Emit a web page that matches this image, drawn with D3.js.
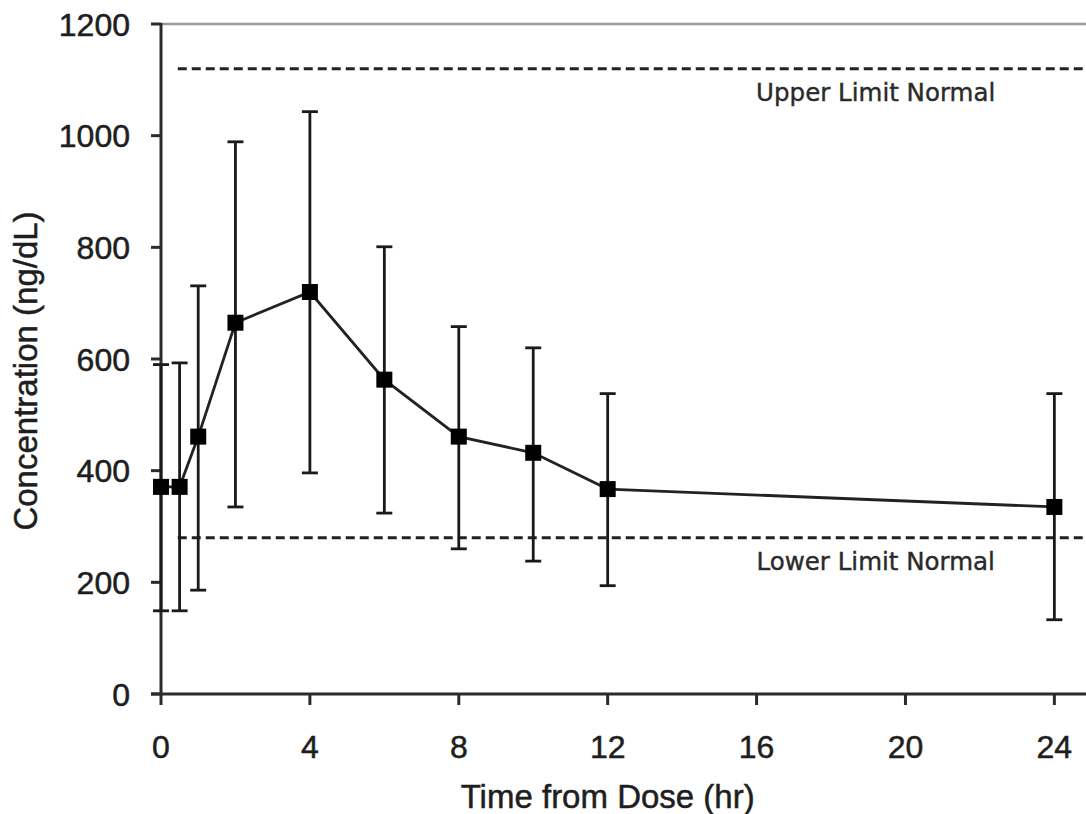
<html lang="en">
<head>
  <meta charset="UTF-8">
  <title>concentration</title>
  <style>
    body {
      margin: 0;
      background-color: #fff;
    }

    .axis-line {
      stroke: #2b2b2b;
      stroke-width: 3;
      fill: none;
    }

    .top-border {
      stroke: #9a9a9a;
      stroke-width: 2.5;
    }

    .tick-label {
      font-family: "Liberation Sans", Arial, sans-serif;
      font-size: 32px;
      fill: #1e1e1e;
      stroke: #1e1e1e;
      stroke-width: 0.5;
    }

    .axis-title {
      font-family: "Liberation Sans", Arial, sans-serif;
      font-size: 33px;
      fill: #1e1e1e;
      stroke: #1e1e1e;
      stroke-width: 0.5;
      text-anchor: middle;
    }

    .limit-line {
      stroke: #222;
      stroke-width: 3;
      stroke-dasharray: 9,5;
    }

    .limit-label {
      font-family: "DejaVu Sans", sans-serif;
      font-size: 24.5px;
      fill: #2a2a2a;
      stroke: #2a2a2a;
      stroke-width: 0.4;
      text-anchor: middle;
    }

    .err {
      stroke: #1a1a1a;
      stroke-width: 2.8;
    }

    .mean-line {
      fill: none;
      stroke: #222;
      stroke-width: 2.8;
    }

    .marker {
      fill: #000;
    }
  </style>
</head>
<body>
  <script src="https://d3js.org/d3.v7.min.js"></script>
  <script>
    var times = [0, 0.5, 1, 2, 4, 6, 8, 10, 12, 24];
    var means = [371, 371, 461, 665, 720, 563, 461, 432, 367, 335];
    var upper = [590, 593, 731, 989, 1043, 801, 658, 620, 538, 538];
    var lower = [149, 149, 186, 335, 396, 324, 260, 238, 194, 133];

    var xTicks = [0, 4, 8, 12, 16, 20, 24];
    var yTicks = [0, 200, 400, 600, 800, 1000, 1200];

    var limits = [
      { value: 1120, name: 'Upper Limit Normal' },
      { value: 280, name: 'Lower Limit Normal' }
    ];

    var width = 1086, height = 814;

    var svg = d3.select('body').append('svg')
      .attr('width', width)
      .attr('height', height);

    var x = d3.scaleLinear().domain([0, 24.85]).range([161, 1086]);
    var y = d3.scaleLinear().domain([0, 1200]).range([694, 24]);

    var points = times.map(function(t, i) {
      return { t: t, mean: means[i], hi: upper[i], lo: lower[i] };
    });

    // top border of the plot area
    svg.append('line')
      .attr('class', 'top-border')
      .attr('x1', x(0)).attr('x2', x.range()[1])
      .attr('y1', y(1200)).attr('y2', y(1200));

    // normal range lines
    svg.selectAll('.limit-line')
      .data(limits)
      .enter().append('line')
      .attr('class', 'limit-line')
      .attr('x1', x(0.45)).attr('x2', x.range()[1])
      .attr('y1', function(d) { return y(d.value); })
      .attr('y2', function(d) { return y(d.value); });

    svg.selectAll('.limit-label')
      .data(limits)
      .enter().append('text')
      .attr('class', 'limit-label')
      .attr('x', x(19.2))
      .attr('y', function(d) { return y(d.value) + 32; })
      .text(function(d) { return d.name; });

    // axes
    svg.append('line')
      .attr('class', 'axis-line')
      .attr('x1', x(0)).attr('x2', x(0))
      .attr('y1', y(1200) - 1).attr('y2', y(0));

    svg.append('line')
      .attr('class', 'axis-line')
      .attr('x1', x(0) - 10).attr('x2', x.range()[1])
      .attr('y1', y(0)).attr('y2', y(0));

    svg.selectAll('.ytick')
      .data(yTicks)
      .enter().append('line')
      .attr('class', 'axis-line ytick')
      .attr('x1', x(0) - 10).attr('x2', x(0))
      .attr('y1', function(d) { return y(d); })
      .attr('y2', function(d) { return y(d); });

    svg.selectAll('.ylab')
      .data(yTicks)
      .enter().append('text')
      .attr('class', 'tick-label ylab')
      .attr('x', 130)
      .attr('y', function(d) { return y(d); })
      .attr('dy', '.36em')
      .style('text-anchor', 'end')
      .text(function(d) { return d; });

    svg.selectAll('.xtick')
      .data(xTicks)
      .enter().append('line')
      .attr('class', 'axis-line xtick')
      .attr('x1', function(d) { return x(d); })
      .attr('x2', function(d) { return x(d); })
      .attr('y1', y(0)).attr('y2', y(0) + 11);

    svg.selectAll('.xlab')
      .data(xTicks)
      .enter().append('text')
      .attr('class', 'tick-label xlab')
      .attr('x', function(d) { return x(d); })
      .attr('y', 758)
      .style('text-anchor', 'middle')
      .text(function(d) { return d; });

    svg.append('text')
      .attr('class', 'axis-title')
      .attr('x', x(12))
      .attr('y', 808)
      .text('Time from Dose (hr)');

    svg.append('text')
      .attr('class', 'axis-title')
      .attr('transform', 'translate(37,' + 371 + ') rotate(-90)')
      .text('Concentration (ng/dL)');

    // error bars
    var bars = svg.selectAll('.bar')
      .data(points)
      .enter().append('g')
      .attr('class', 'bar');

    bars.append('line')
      .attr('class', 'err')
      .attr('x1', function(d) { return x(d.t); })
      .attr('x2', function(d) { return x(d.t); })
      .attr('y1', function(d) { return y(d.hi); })
      .attr('y2', function(d) { return y(d.lo); });

    bars.selectAll('.cap')
      .data(function(d) { return [{ t: d.t, v: d.hi }, { t: d.t, v: d.lo }]; })
      .enter().append('line')
      .attr('class', 'err cap')
      .attr('x1', function(d) { return x(d.t) - 8; })
      .attr('x2', function(d) { return x(d.t) + 8; })
      .attr('y1', function(d) { return y(d.v); })
      .attr('y2', function(d) { return y(d.v); });

    // mean line and markers
    var line = d3.line()
      .x(function(d) { return x(d.t); })
      .y(function(d) { return y(d.mean); });

    svg.append('path')
      .datum(points)
      .attr('class', 'mean-line')
      .attr('d', line);

    svg.selectAll('.marker')
      .data(points)
      .enter().append('rect')
      .attr('class', 'marker')
      .attr('x', function(d) { return x(d.t) - 8; })
      .attr('y', function(d) { return y(d.mean) - 8; })
      .attr('width', 16)
      .attr('height', 16);
  </script>
</body>
</html>
